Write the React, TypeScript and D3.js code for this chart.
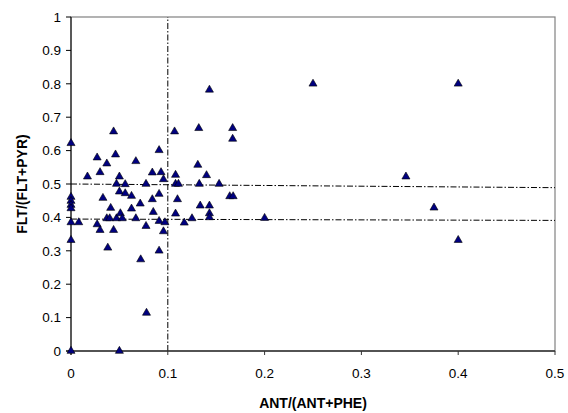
import React from 'react';
import * as d3 from 'd3';

// ANT/(ANT+PHE) vs FLT/(FLT+PYR) diagnostic ratios
const antRatio = [
  0, 0, 0, 0, 0, 0, 0, 0, 0.008, 0.017,
  0.027, 0.027, 0.03, 0.03, 0.033, 0.037, 0.037, 0.038, 0.04, 0.041,
  0.044, 0.044, 0.046, 0.047, 0.047, 0.05, 0.05, 0.05, 0.051, 0.053,
  0.056, 0.056, 0.0625, 0.0625, 0.067, 0.067, 0.0715, 0.072, 0.0775, 0.0775,
  0.078, 0.084, 0.084, 0.085, 0.091, 0.091, 0.091, 0.091, 0.093, 0.0955,
  0.0955, 0.097, 0.107, 0.108, 0.108, 0.111, 0.108, 0.11, 0.117, 0.125,
  0.131, 0.132, 0.1325, 0.1335, 0.14, 0.143, 0.143, 0.143, 0.143, 0.153,
  0.164, 0.1675, 0.167, 0.167, 0.2, 0.25, 0.346, 0.375, 0.4, 0.4,
];
const fltRatio = [
  0.622, 0.461, 0.449, 0.437, 0.427, 0.385, 0.332, 0, 0.385, 0.522,
  0.579, 0.379, 0.535, 0.362, 0.458, 0.561, 0.397, 0.309, 0.397, 0.428,
  0.657, 0.362, 0.588, 0.5, 0.397, 0.522, 0.477, 0, 0.412, 0.397,
  0.499, 0.472, 0.464, 0.426, 0.568, 0.397, 0.441, 0.274, 0.5, 0.374,
  0.114, 0.534, 0.454, 0.416, 0.601, 0.47, 0.389, 0.3, 0.535, 0.514,
  0.358, 0.385, 0.657, 0.527, 0.5, 0.5, 0.411, 0.454, 0.384, 0.397,
  0.557, 0.667, 0.5, 0.435, 0.526, 0.782, 0.435, 0.412, 0.4, 0.5,
  0.463, 0.463, 0.667, 0.635, 0.398, 0.8, 0.522, 0.429, 0.8, 0.332,
];

// dash-dot reference lines
const vLine = [[0.1, 0], [0.1, 1]];
const hLineUpper = [[0, 0.5], [0.5, 0.489]];
const hLineLower = [[0, 0.395], [0.5, 0.391]];

const xTicks = [0, 0.1, 0.2, 0.3, 0.4, 0.5];
const yTicks = [0, 0.1, 0.2, 0.3, 0.4, 0.5, 0.6, 0.7, 0.8, 0.9, 1];

const W = 568, H = 413;
const m = { left: 71, right: 13, top: 17, bottom: 62 };

export default function App() {
  const x = d3.scaleLinear().domain([0, 0.5]).range([m.left, W - m.right]);
  const y = d3.scaleLinear().domain([0, 1]).range([H - m.bottom, m.top]);
  const line = d3.line<number[]>().x(d => x(d[0])).y(d => y(d[1]));
  const tri = d3.symbol().type(d3.symbolTriangle).size(28)();
  const font = 'Arial, "Liberation Sans", sans-serif';
  const dash = '6,2,1.5,2';

  return (
    <svg width={W} height={H} style={{ position: 'absolute', left: 0, top: 0, background: '#fff' }}
      fontFamily={font}>
      <rect x={x(0)} y={y(1)} width={x(0.5) - x(0)} height={y(0) - y(1)}
        fill="none" stroke="#808080" strokeWidth={1.2} />

      <path d={line(vLine as any) || ''} stroke="#000" fill="none" strokeDasharray={dash} />
      <path d={line(hLineUpper as any) || ''} stroke="#000" fill="none" strokeDasharray={dash} />
      <path d={line(hLineLower as any) || ''} stroke="#000" fill="none" strokeDasharray={dash} />

      {/* y axis */}
      <line x1={x(0)} x2={x(0)} y1={y(1)} y2={y(0) + 4} stroke="#000" />
      {yTicks.map(t => (
        <g key={t}>
          <line x1={x(0) - 5} x2={x(0)} y1={y(t)} y2={y(t)} stroke="#000" />
          <text x={x(0) - 10} y={y(t)} dy="0.35em" textAnchor="end" fontSize={13.5}>{t}</text>
        </g>
      ))}
      {/* x axis */}
      <line x1={x(0) - 5} x2={x(0.5)} y1={y(0)} y2={y(0)} stroke="#333" strokeWidth={1.5} />
      {xTicks.map(t => (
        <g key={t}>
          <line x1={x(t)} x2={x(t)} y1={y(0)} y2={y(0) + 4} stroke="#333" />
          <text x={x(t)} y={y(0) + 27} textAnchor="middle" fontSize={13.5}>{t}</text>
        </g>
      ))}

      {antRatio.map((a, i) => (
        <path key={i} d={tri} transform={`translate(${x(a)},${y(fltRatio[i])})`}
          fill="#000080" stroke="#000" strokeWidth={0.6} />
      ))}

      <text x={(x(0) + x(0.5)) / 2} y={408} textAnchor="middle" fontSize={14} fontWeight="bold">
        ANT/(ANT+PHE)
      </text>
      <text transform={`translate(27,${(y(0) + y(1)) / 2}) rotate(-90)`} textAnchor="middle"
        fontSize={14} fontWeight="bold">
        FLT/(FLT+PYR)
      </text>
    </svg>
  );
}
